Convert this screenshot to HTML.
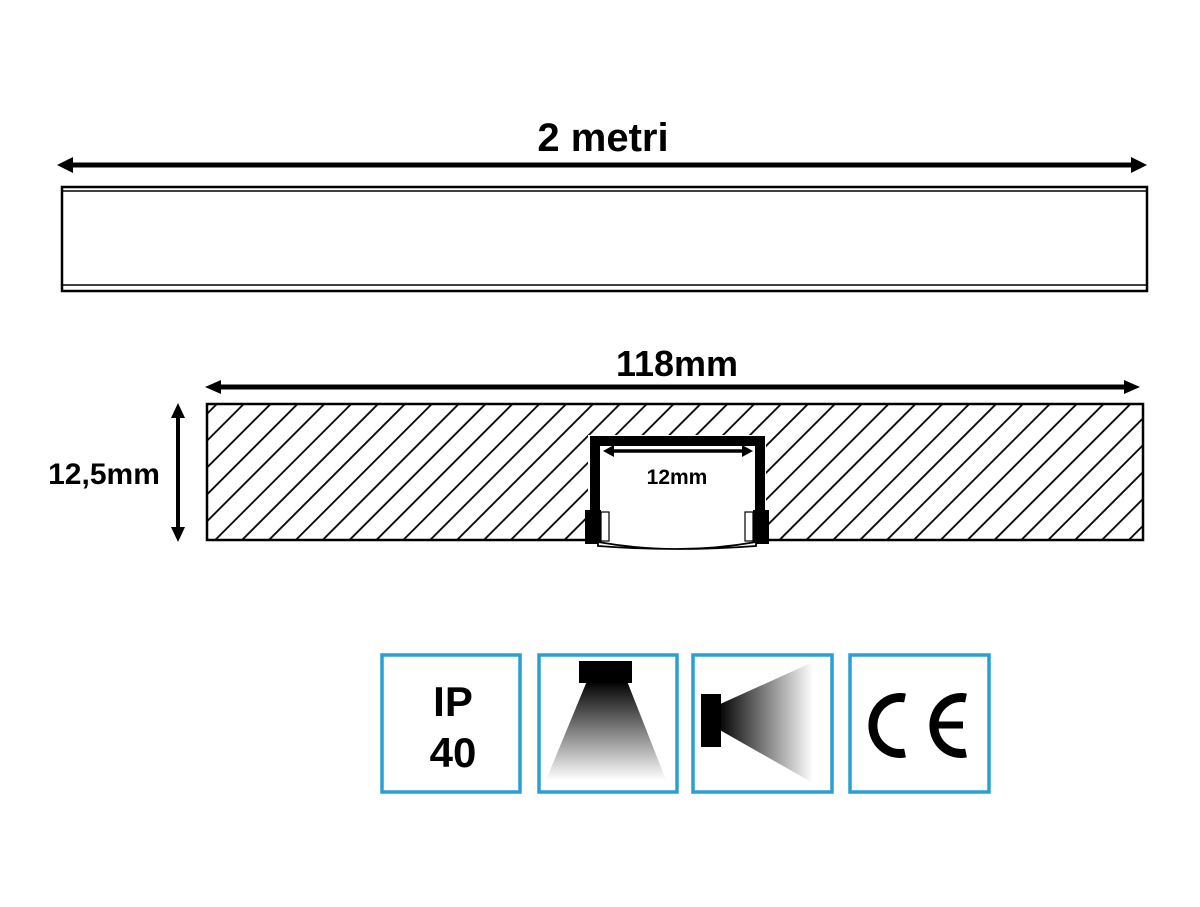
<!DOCTYPE html>
<html><head><meta charset="utf-8"><style>
html,body{margin:0;padding:0;background:#fff;}
svg{display:block;}
text{font-family:"Liberation Sans",sans-serif;font-weight:bold;fill:#000;}
</style></head><body>
<svg width="1200" height="907" viewBox="0 0 1200 907" xmlns="http://www.w3.org/2000/svg">
<defs>
<pattern id="h" width="19" height="19" patternUnits="userSpaceOnUse" patternTransform="rotate(45)">
<line x1="2" y1="0" x2="2" y2="19" stroke="#000" stroke-width="1.8"/>
</pattern>
<linearGradient id="gd" x1="0" y1="0" x2="0" y2="1">
<stop offset="0" stop-color="#000"/><stop offset="1" stop-color="#fff"/></linearGradient>
<linearGradient id="gr" x1="0" y1="0" x2="1" y2="0">
<stop offset="0" stop-color="#000"/><stop offset="1" stop-color="#fff"/></linearGradient>
</defs>
<!-- 2 metri -->
<text x="603" y="151" font-size="40" text-anchor="middle">2 metri</text>
<line x1="66" y1="165" x2="1138" y2="165" stroke="#000" stroke-width="5"/>
<polygon points="57,165 73,157 73,173" fill="#000"/>
<polygon points="1147,165 1131,157 1131,173" fill="#000"/>
<rect x="62" y="187" width="1085" height="104" fill="none" stroke="#000" stroke-width="2.5"/>
<line x1="62" y1="191" x2="1147" y2="191" stroke="#000" stroke-width="1.5"/>
<line x1="62" y1="285" x2="1147" y2="285" stroke="#000" stroke-width="1.5"/>
<!-- 118mm -->
<text x="677" y="376" font-size="36" text-anchor="middle">118mm</text>
<line x1="215" y1="387" x2="1130" y2="387" stroke="#000" stroke-width="5"/>
<polygon points="205,387 221,380 221,394" fill="#000"/>
<polygon points="1140,387 1124,380 1124,394" fill="#000"/>
<rect x="207" y="404" width="936" height="136" fill="url(#h)" stroke="#000" stroke-width="2.5"/>
<!-- vertical -->
<line x1="178" y1="414" x2="178" y2="530" stroke="#000" stroke-width="4"/>
<polygon points="178,403 171,418 185,418" fill="#000"/>
<polygon points="178,542 171,527 185,527" fill="#000"/>
<text x="104" y="484" font-size="30" text-anchor="middle">12,5mm</text>
<!-- profile -->
<rect x="588" y="435" width="178" height="108" fill="#fff"/>
<path d="M590,541 L590,436 L765,436 L765,541 L755,541 L755,446 L600,446 L600,541 Z" fill="#000"/>
<rect x="585" y="510" width="16" height="34" fill="#000"/>
<rect x="753" y="510" width="16" height="34" fill="#000"/>
<rect x="601" y="512" width="8" height="29" fill="#fff" stroke="#000" stroke-width="1.2"/>
<rect x="745" y="512" width="8" height="29" fill="#fff" stroke="#000" stroke-width="1.2"/>
<path d="M598,542 Q677,556 756,542 L756,546 Q677,552 598,546 Z" fill="#fff" stroke="#000" stroke-width="1.8"/>
<line x1="612" y1="451" x2="744" y2="451" stroke="#000" stroke-width="3.5"/>
<polygon points="603,451 614,445 614,457" fill="#000"/>
<polygon points="753,451 742,445 742,457" fill="#000"/>
<text x="677" y="484" font-size="21" text-anchor="middle">12mm</text>
<!-- icons -->
<g fill="#fff" stroke="#2a9fd1" stroke-width="3.5">
<rect x="382" y="655" width="138" height="137"/>
<rect x="539" y="655" width="138" height="137"/>
<rect x="693" y="655" width="139" height="137"/>
<rect x="850" y="655" width="139" height="137"/>
</g>
<text x="453" y="716" font-size="42" text-anchor="middle">IP</text>
<text x="453" y="767" font-size="42" text-anchor="middle">40</text>
<polygon points="587,681 627,681 666,780 546,780" fill="url(#gd)"/>
<rect x="579" y="661" width="53" height="22" fill="#000"/>
<polygon points="718,705 813,662 813,783 718,729" fill="url(#gr)"/>
<rect x="701" y="694" width="20" height="53" fill="#000"/>
<path d="M905,698 A27,28 0 1 0 905,753" fill="none" stroke="#000" stroke-width="9"/>
<path d="M966,698 A27,28 0 1 0 966,753" fill="none" stroke="#000" stroke-width="9"/>
<line x1="936" y1="725" x2="963" y2="725" stroke="#000" stroke-width="7"/>
</svg>
</body></html>
